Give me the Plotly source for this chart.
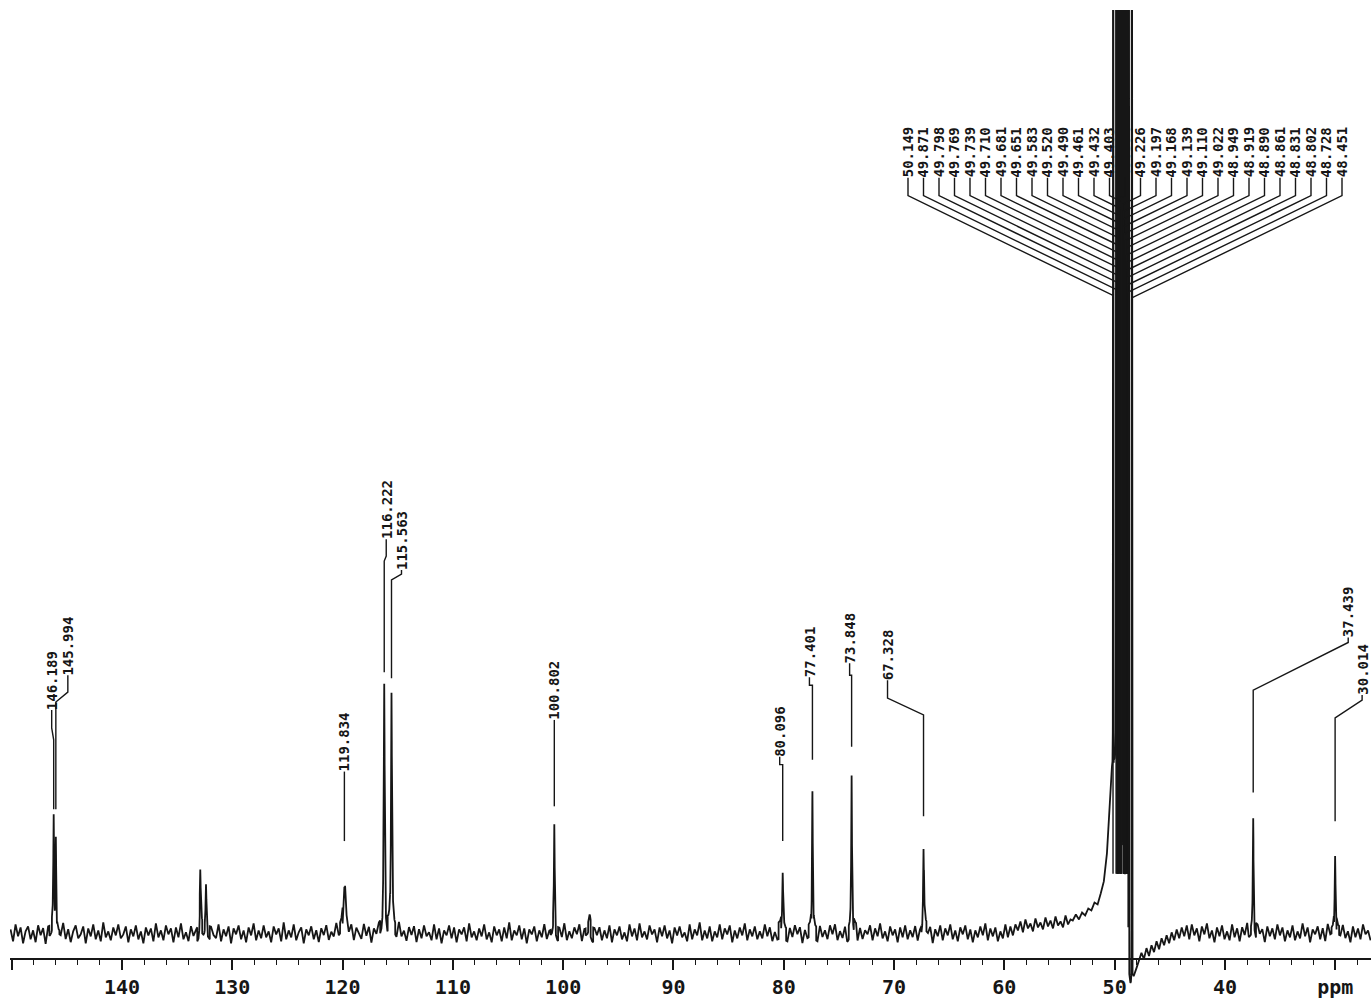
import numpy as np
import plotly.graph_objects as go

# ---------------- data ----------------
peak_ppm = [146.189, 145.994, 132.90, 132.38, 119.834, 116.222, 115.563,
            100.802, 97.6, 80.096, 77.401, 73.848, 67.328, 37.439, 30.014]
peak_height = [107, 100, 55, 47, 58, 247, 242, 102, 12, 63, 145, 162, 90, 113, 85]
peak_hwhm = [0.04, 0.04, 0.05, 0.05, 0.12, 0.05, 0.05, 0.04, 0.10,
             0.05, 0.04, 0.04, 0.05, 0.04, 0.05]
peak_label = ["146.189", "145.994", "", "", "119.834", "116.222", "115.563",
              "100.802", "", "80.096", "77.401", "73.848", "67.328", "37.439", "30.014"]

solvent_label = ["50.149", "49.871", "49.798", "49.769", "49.739", "49.710", "49.681",
                 "49.651", "49.583", "49.520", "49.490", "49.461", "49.432", "49.403",
                 "49.374", "49.226", "49.197", "49.168", "49.139", "49.110", "49.022",
                 "48.949", "48.919", "48.890", "48.861", "48.831", "48.802", "48.728",
                 "48.451"]
solvent_ppm = [float(s) for s in solvent_label]
solvent_height = [1800, 2500, 3000, 2200, 4000, 3500, 5000, 4200, 2800, 3300, 4500,
                  3900, 5200, 4800, 3600, 3100, 5500, 4700, 4100, 6000, 3800, 5200,
                  4400, 3700, 4900, 3200, 2700, 2300, 1900]
solvent_hwhm = [0.003] * len(solvent_ppm)

# baseline (noise + drift), four stretches
baseline_a = [
    4, -8, 9, -3, 6, -10, 2, 7, -6, 3, -9, 8, -2, 5, -11, 6, -4, 9, -7, 1,
    -3, 10, -6, 4, -9, 2, 8, -5, -1, 7, -10, 5, -3, 9, -6, 3, -8, 11, -4, 2,
    -7, 6, -2, 9, -5, -1, 7, -9, 4, -3, 8, -6, 2, -10, 6, -2, 5, -8, 10, -4,
    3, -7, 8, -1, 5, -9, 6, -4, 10, -6, 1, -8, 7, -3, 4, -10, 9, -5, 2, -7,
    6, -2, -5, 9, -8, 4, -3, 7, -10, 5, -1, 8, -6, 3, -9, 6, -2, 10, -7, 3,
    -5, 8, -4, 2, -9, 7, -1, 5, -8, 11, -6, 3, -4, 9, -7, 1, 6, -10, 4, -2,
    7, -6, 3, -9, 5, -2, 8, -7, 1, -4, 9, -5, 6, -11, 3, -3, 7, -8, 5, -1,
    -6, 9, -3, 6, -10, 4, -2, 8, -5, 3, -9, 7, -1, 5, -7, 10, -4, 2, -8, 6,
    -2, 7, -9, 4, -5, 8, -3, 1, -7, 9, -6, 5, -10, 3, -2, 8, -5, 6, -9, 4,
    -1, 6, -8, 10, -4, 2, -7, 5, -3, 9, -6, 1, -9, 7, -2, 4, -8, 6, -5, 11,
    -7, 3, -2, 8, -6, 5, -10, 4, -1, 7, -8, 3, -4, 9, -6, 2, -3, 8, -9, 5,
    -4, 10, -7, 2, -5, 6, -1, 9, -8, 4, -3, 7, -10, 5, -2, 6, -7, 3, -5, 8,
    -9, 4, -2, 7, -6, 1, -8, 9, -3, 5, -7, 10, -4, 2, -6, 8, -1, 4, -9, 6,
    -3, 8, -5, 3, -10, 6, -2, 7, -4, 1, -8, 9, -6, 4, -2, 11, -7, 3, -5, 7,
    -8, 2, -4, 9, -6, 5, -1, 8, -9, 3, -5, 6, -2, 10, -7, 4, -3, 7, -6, 2,
    -5, 9, -3, 6, -8, 1, -7, 10, -2, 4, -9, 5, -4, 8, -1, 6, -10, 3, -6, 7,
    -2, 5, -9, 7, -4, 3, -6, 8, -1, 9, -7, 2, -5, 6, -10, 4, -3, 9, -8, 5,
    -6, 3, -1, 8, -7, 5, -3, 10, -5, 2, -8, 7, -2, 4, -9, 6, -4, 8, -6, 3,
    -4, 7, -8, 2, -5, 9, -1, 6, -10, 4, -3, 8, -7, 5, -2, 9, -6, 3, -8, 6,
    -1, 8, -6, 4, -9, 3, -4, 7, -2, 10, -7, 5, -3, 6, -8, 2, -5, 9, -4, 7,
    -2, 9, 3, 12, 1, 14, 5, 10, 2, 15, 6, 11, 4, 16, 7, 13, 5, 17, 8, 12, 6, 18, 9, 14,
]
baseline_b = [13, 19, 14, 21, 18, 25, 23, 31, 29, 40, 52, 80]
baseline_c = [125, 165, 170, 140, 70, -10, -45, -55, -45, -35]
baseline_d = [
    -28, -20, -26, -15, -23, -12, -19, -8, -16, -5, -12, -2, -10, 1, -7, 4, -5, 6, -3, 8,
    -6, 9, -2, 5, -8, 7, -1, 10, -5, 3, -9, 6, -3, 8, -6, 2, -7, 9, -4, 5,
    -8, 6, -2, 10, -5, 3, -7, 8, -1, 4, -9, 7, -3, 5, -6, 9, -2, 6, -8, 3,
    -4, 8, -7, 2, -5, 10, -3, 6, -9, 4, -1, 7, -6, 5, -8, 9, -2, 4, -7, 6,
    -3, 8, -5, 2, -9, 7, -4, 5, -6, 9, -1, 3, -7,
]
baseline_spans = [(150.1, 54.0), (53.8, 50.7), (50.5, 48.0), (47.8, 26.8)]

tick_vals = [150, 140, 130, 120, 110, 100, 90, 80, 70, 60, 50, 40, 30]
tick_text = ["", "140", "130", "120", "110", "100", "90", "80", "70", "60", "50", "40", "ppm"]

# ---------------- layout constants ----------------
W, H = 1371, 999
M_L, M_R, M_T, M_B = 10, 0, 10, 0
X_LEFT, X_RIGHT = 150.15, 26.76          # ppm at plot edges
Y_BOT, Y_TOP = -59, 930                   # intensity units (1 unit = 1 px)
PX_PER_PPM = (W - M_L - M_R) / (X_LEFT - X_RIGHT)
INK = "#161616"
MONO = "DejaVu Sans Mono"


def px_to_ppm(px):
    return X_LEFT - (px - M_L) / PX_PER_PPM


def ppm_to_px(ppm):
    return M_L + (X_LEFT - ppm) * PX_PER_PPM


# label layout for the resolved peaks: dx (px), label bottom, kink1, kink2, leader bottom
label_layout = {
    "146.189": (-2, 225, 207, 195, 125),
    "145.994": (12, 260, 243, 233, 125),
    "119.834": (0, 163, 150, 150, 93),
    "116.222": (2, 397, 380, 375, 263),
    "115.563": (10, 366, 362, 356, 257),
    "100.802": (0, 215, 200, 200, 128),
    "80.096": (-3, 178, 170, 170, 93),
    "77.401": (-3, 258, 250, 250, 175),
    "73.848": (-2, 272, 260, 260, 188),
    "67.328": (-36, 255, 237, 220, 118),
    "37.439": (95, 298, 293, 245, 142),
    "30.014": (27, 240, 235, 217, 113),
}
FAN_X0_PX, FAN_STEP_PX = 908, 15.5
FAN_LABEL_BOTTOM, FAN_KINK, FAN_SLOPE, FAN_END = 763, 743, 0.49, 60

# ---------------- build the spectrum trace ----------------
base_x = np.concatenate([np.linspace(a, b, len(v)) for (a, b), v in
                         zip(baseline_spans, [baseline_a, baseline_b, baseline_c, baseline_d])])
base_y = np.array(baseline_a + baseline_b + baseline_c + baseline_d, dtype=float)

fine = [np.arange(p - 0.4, p + 0.4, 0.005) for p in peak_ppm]
fine.append(np.arange(48.3, 50.3, 0.002))
X = np.unique(np.concatenate([base_x] + fine))[::-1]

asc_x = base_x[::-1]
asc_y = base_y[::-1]
idx = np.clip(np.searchsorted(asc_x, X), 1, len(asc_x) - 1)
left_closer = (X - asc_x[idx - 1]) < (asc_x[idx] - X)
nearest = np.where(left_closer, idx - 1, idx)
Y = asc_y[nearest].copy()

for p, h, w in zip(peak_ppm + solvent_ppm, peak_height + solvent_height, peak_hwhm + solvent_hwhm):
    Y += h * w * w / ((X - p) ** 2 + w * w)

fig = go.Figure()
fig.add_trace(go.Scatter(x=X, y=Y, mode="lines", line=dict(color=INK, width=1.8),
                         hoverinfo="skip", showlegend=False))

# ---------------- leaders + labels ----------------
lx, ly = [], []
annotations = []
for p, lab in zip(peak_ppm, peak_label):
    if not lab:
        continue
    dx, lb, k1, k2, bot = label_layout[lab]
    peak_px = ppm_to_px(p)
    lab_ppm = px_to_ppm(peak_px + dx)
    lx += [lab_ppm, lab_ppm, p, p, None]
    ly += [lb, k1, k2, bot, None]
    annotations.append(dict(x=lab_ppm, y=lb - 1, text=lab, textangle=-90, showarrow=False,
                            xanchor="center", yanchor="bottom", borderpad=0,
                            font=dict(family=MONO, size=14, color=INK, weight="bold")))

for i, (p, lab) in enumerate(zip(solvent_ppm, solvent_label)):
    lab_px = FAN_X0_PX + i * FAN_STEP_PX
    lab_ppm = px_to_ppm(lab_px)
    end_y = FAN_KINK - FAN_SLOPE * abs(ppm_to_px(p) - lab_px)
    lx += [lab_ppm, lab_ppm, p, p, None]
    ly += [FAN_LABEL_BOTTOM - 2, FAN_KINK, end_y, FAN_END, None]
    annotations.append(dict(x=lab_ppm, y=FAN_LABEL_BOTTOM - 3, text=lab, textangle=-90,
                            showarrow=False, xanchor="center", yanchor="bottom", borderpad=0,
                            font=dict(family=MONO, size=14, color=INK, weight="bold")))

fig.add_trace(go.Scatter(x=lx, y=ly, mode="lines", line=dict(color=INK, width=1.4),
                         hoverinfo="skip", showlegend=False, connectgaps=False))

fig.update_layout(
    width=W, height=H,
    margin=dict(l=M_L, r=M_R, t=M_T, b=M_B, pad=0),
    paper_bgcolor="white", plot_bgcolor="white",
    showlegend=False,
    annotations=annotations,
    xaxis=dict(range=[X_LEFT, X_RIGHT], anchor="free", position=(999 - 966) / (H - M_T - M_B),
               showgrid=False, zeroline=False, showline=True, linecolor=INK, linewidth=1.5,
               ticks="outside", ticklen=10, tickwidth=1.5, tickcolor=INK,
               tickmode="array", tickvals=tick_vals, ticktext=tick_text,
               tickfont=dict(family=MONO, size=20, color=INK, weight="bold"),
               minor=dict(tickmode="linear", tick0=0, dtick=2, ticks="outside",
                          ticklen=5, tickwidth=1.3, tickcolor=INK)),
    yaxis=dict(range=[Y_BOT, Y_TOP], visible=False, domain=[0, 1]),
)

fig.write_html("out.html")
